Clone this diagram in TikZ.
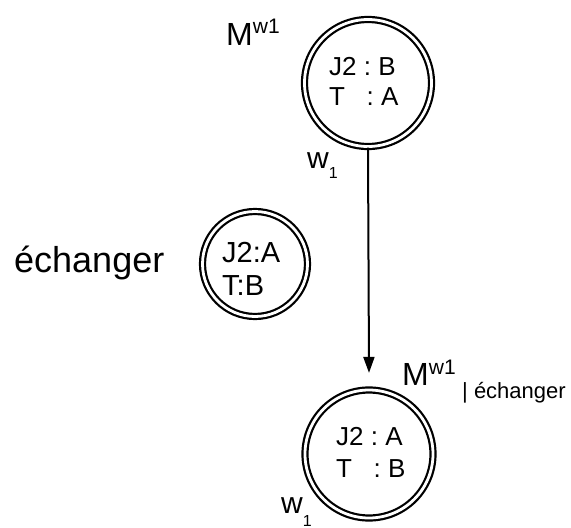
\documentclass[tikz,border=0pt]{standalone}
\usepackage{fontspec}
\setmainfont{Liberation Sans}
\usetikzlibrary{arrows.meta}
\tikzset{
  dstate/.style={circle, draw, double, line width=2.2pt, double distance=2.8pt, inner sep=0pt},
  lbl/.style={inner sep=0pt, anchor=base west},
}
\newcommand{\fs}[2]{\fontsize{#1}{#2}\selectfont}
\begin{document}
\begin{tikzpicture}[x=1pt,y=-1pt]
\useasboundingbox (0,0) rectangle (571,528);
% states
\node[dstate, minimum size=127pt] (top) at (368,83) {};
\node[dstate, minimum size=105pt] (mid) at (255,264) {};
\node[dstate, minimum size=128pt] (bot) at (369,454) {};
% state contents
\node[lbl] (t1) at (329,75) {\fs{26}{26}J2\ :\ B};
\node[lbl] (t2) at (329,105) {\fs{26}{26}T\ \ \ :\ A};
\node[lbl] (m1) at (222,262) {\fs{29}{29}J2:A};
\node[lbl] (m2) at (222,295) {\fs{29}{29}T:B};
\node[lbl] (b1) at (336,445) {\fs{26}{26}J2\ :\ A};
\node[lbl] (b2) at (336,477) {\fs{26}{26}T\ \ \ :\ B};
% arrow
\draw[line width=2pt, -{Triangle[length=16pt,width=11pt]}] (top.south) -- ([yshift=16pt]bot.north);
% labels
\node[lbl] (mtop) at (226,45) {\fs{32}{32}M\raisebox{12pt}{\fs{21}{21}w1}};
\node[lbl] (wtop) at (307,168) {\fs{30}{30}w\raisebox{-10pt}{\fs{16}{16}1}};
\node[lbl] (ech) at (14,272) {\fs{36}{36}échanger};
\node[lbl] (mbot) at (402,385) {\fs{32}{32}M\raisebox{11pt}{\fs{21}{21}w1}};
\node[lbl] (ebot) at (462,398) {\fs{22}{22}| échanger};
\node[lbl] (wbot) at (281,513) {\fs{30}{30}w\raisebox{-13pt}{\fs{16}{16}1}};
\end{tikzpicture}
\end{document}
